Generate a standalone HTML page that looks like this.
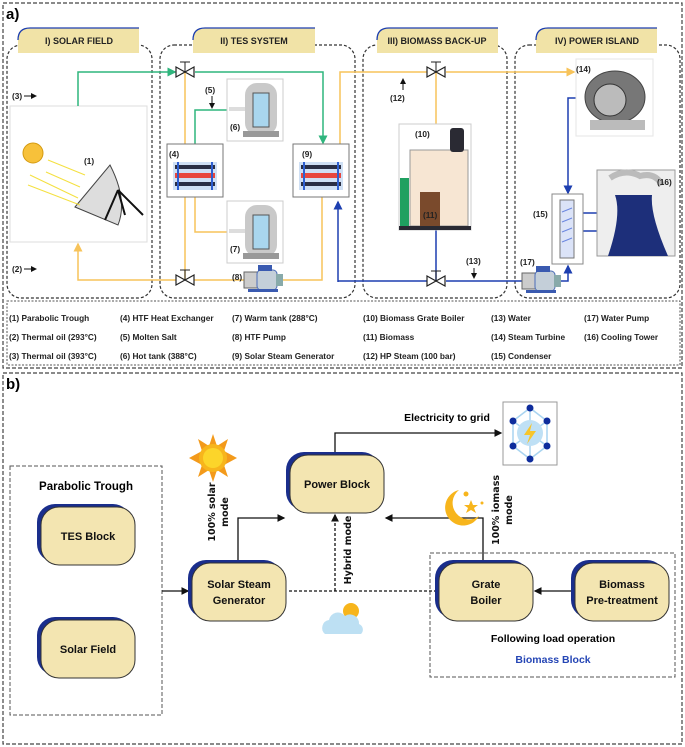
<!DOCTYPE html>
<html><head><meta charset="utf-8"><style>
html,body{margin:0;padding:0;background:#fff}
svg{display:block;font-family:"Liberation Sans",sans-serif}
.t{font-weight:bold;font-size:9px;fill:#222}
.lg{font-weight:bold;font-size:8.3px;fill:#222}
.nd{font-weight:bold;font-size:11px;fill:#111}
</style></head><body>
<svg width="685" height="747" viewBox="0 0 685 747" xmlns="http://www.w3.org/2000/svg">
<defs>
<marker id="ar" markerWidth="6" markerHeight="6" refX="5" refY="3" orient="auto"><path d="M0,0L6,3L0,6z" fill="#111"/></marker>
<marker id="ag" markerWidth="6" markerHeight="6" refX="5" refY="3" orient="auto"><path d="M0,0L6,3L0,6z" fill="#2fb57d"/></marker>
<marker id="ao" markerWidth="6" markerHeight="6" refX="5" refY="3" orient="auto"><path d="M0,0L6,3L0,6z" fill="#f7c35a"/></marker>
<marker id="ab" markerWidth="6" markerHeight="6" refX="5" refY="3" orient="auto"><path d="M0,0L6,3L0,6z" fill="#1d3fb0"/></marker>
<g id="valve"><path d="M-9,-5L9,5L9,-5L-9,5z" fill="#fff" stroke="#222" stroke-width="1.2"/><line x1="0" y1="0" x2="0" y2="-10" stroke="#222"/><line x1="-5" y1="-10" x2="5" y2="-10" stroke="#222"/></g>
<g id="hx"><rect x="0" y="0" width="56" height="53" fill="#fff" stroke="#777"/><rect x="6" y="18" width="44" height="28" fill="#cfe0f5"/><rect x="8" y="21" width="40" height="4" fill="#2a2f45"/><rect x="8" y="29" width="40" height="5" fill="#e8473e"/><rect x="8" y="38" width="40" height="4" fill="#2a2f45"/><rect x="10" y="18" width="2" height="28" fill="#2e5fd0"/><rect x="44" y="18" width="2" height="28" fill="#2e5fd0"/></g>
<g id="tank"><rect x="0" y="0" width="56" height="62" fill="#fff" stroke="#ccc"/><rect x="18" y="4" width="32" height="52" rx="12" fill="#c9c9c9"/><rect x="26" y="14" width="16" height="34" fill="#a9d6ee" stroke="#555"/><rect x="16" y="52" width="36" height="6" fill="#999"/><rect x="2" y="28" width="16" height="4" fill="#ddd"/></g>
<g id="pump"><rect x="0" y="4" width="14" height="16" fill="#ccc" stroke="#666"/><rect x="13" y="2" width="20" height="20" rx="4" fill="#c4cfd9" stroke="#4b6cb7"/><rect x="32" y="6" width="7" height="12" fill="#8aa"/><rect x="14" y="-3" width="14" height="6" fill="#3a5ab0"/><rect x="4" y="21" width="30" height="3" fill="#3a5ab0"/></g>
<g id="node"><rect x="0" y="0" width="94" height="58" rx="18" fill="#1a2e8c"/><rect x="4" y="3" width="94" height="58" rx="18" fill="#f3e5b1" stroke="#333" stroke-width="1"/></g>
</defs>

<!-- PART A -->
<rect x="3" y="3" width="679" height="365" fill="none" stroke="#444" stroke-dasharray="4,2" stroke-width="1.2"/>
<text x="6" y="19" font-weight="bold" font-size="15">a)</text>
<g fill="none" stroke="#333" stroke-dasharray="3,2" stroke-width="1.2">
<rect x="7" y="45" width="145" height="253" rx="14"/>
<rect x="160" y="45" width="195" height="253" rx="14"/>
<rect x="363" y="45" width="144" height="253" rx="14"/>
<rect x="515" y="45" width="165" height="253" rx="14"/>
</g>
<g>
<path d="M18,53V38Q18,28 28,28H139V53Z" fill="#f1e3a7"/><path d="M18,40Q18,28 30,28H139" fill="none" stroke="#1d3fb0" stroke-width="1.3"/>
<path d="M193,53V38Q193,28 203,28H315V53Z" fill="#f1e3a7"/><path d="M193,40Q193,28 205,28H315" fill="none" stroke="#1d3fb0" stroke-width="1.3"/>
<path d="M377,53V38Q377,28 387,28H498V53Z" fill="#f1e3a7"/><path d="M377,40Q377,28 389,28H498" fill="none" stroke="#1d3fb0" stroke-width="1.3"/>
<path d="M536,53V38Q536,28 546,28H657V53Z" fill="#f1e3a7"/><path d="M536,40Q536,28 548,28H657" fill="none" stroke="#1d3fb0" stroke-width="1.3"/>
</g>
<text class="t" x="79" y="44" text-anchor="middle">I) SOLAR FIELD</text>
<text class="t" x="254" y="44" text-anchor="middle">II) TES SYSTEM</text>
<text class="t" x="437" y="44" text-anchor="middle">III) BIOMASS BACK-UP</text>
<text class="t" x="597" y="44" text-anchor="middle">IV) POWER ISLAND</text>

<!-- solar image -->
<rect x="10" y="106" width="137" height="136" fill="#fff" stroke="#ddd"/>
<circle cx="33" cy="153" r="10" fill="#f7c13a" stroke="#d49a10"/>
<path d="M75,207L110,165Q128,200 118,225Z" fill="#ddd" stroke="#444"/>
<path d="M118,190L143,215M118,190L105,220M118,190L125,215" stroke="#111" stroke-width="2"/>
<path d="M48,160L85,175M46,172L80,187M30,175L78,198M28,185L80,205" stroke="#f4e040" stroke-width="1"/>
<text class="lg" x="84" y="164">(1)</text>

<!-- pipes -->
<path d="M78,106V72H175" fill="none" stroke="#2fb57d" stroke-width="1.5" marker-end="url(#ag)"/>
<path d="M195,72H323V143" fill="none" stroke="#2fb57d" stroke-width="1.5" marker-end="url(#ag)"/>
<path d="M195,144V110H228" fill="none" stroke="#2fb57d" stroke-width="1.5"/>
<path d="M78,246V280H176" fill="none" stroke="#f7c35a" stroke-width="1.5"/>
<path d="M78,250V244" stroke="#f7c35a" stroke-width="1.5" marker-end="url(#ao)"/>
<path d="M185,72V280M194,280H245M282,280H322V197" fill="none" stroke="#f7c35a" stroke-width="1.5"/>
<path d="M195,197V232H228" fill="none" stroke="#f7c35a" stroke-width="1.5"/>
<path d="M340,144V72H427M446,72H570" fill="none" stroke="#f7c35a" stroke-width="1.5"/>
<path d="M560,72H574" stroke="#f7c35a" stroke-width="1.5" marker-end="url(#ao)"/>
<path d="M436,72V124" stroke="#f7c35a" stroke-width="1.5"/>
<path d="M338,282V202" stroke="#1d3fb0" stroke-width="1.5" marker-end="url(#ab)"/>
<path d="M338,281H427M436,230V281M446,281H522" fill="none" stroke="#1d3fb0" stroke-width="1.5"/>
<path d="M560,281H568V266" fill="none" stroke="#1d3fb0" stroke-width="1.5" marker-end="url(#ab)"/>
<path d="M576,98H568V193" fill="none" stroke="#1d3fb0" stroke-width="1.5" marker-end="url(#ab)"/>
<path d="M583,213H597M583,231H597" stroke="#1d3fb0" stroke-width="1.5"/>

<use href="#valve" x="185" y="72"/>
<use href="#valve" x="185" y="280"/>
<use href="#valve" x="436" y="72"/>
<use href="#valve" x="436" y="281"/>
<use href="#hx" x="167" y="144"/>
<use href="#hx" x="293" y="144"/>
<use href="#tank" x="227" y="79"/>
<use href="#tank" x="227" y="201"/>
<use href="#pump" x="244" y="268"/>
<use href="#pump" x="522" y="269"/>

<!-- boiler -->
<rect x="399" y="124" width="72" height="106" fill="#fff" stroke="#ccc"/>
<rect x="410" y="150" width="58" height="76" fill="#f7e6d3" stroke="#999"/>
<rect x="450" y="128" width="14" height="24" rx="3" fill="#2a2a33"/>
<rect x="400" y="178" width="9" height="48" fill="#1fa060"/>
<rect x="420" y="192" width="20" height="34" fill="#7a4a2c"/>
<rect x="399" y="226" width="72" height="4" fill="#2a2a33"/>
<!-- turbine -->
<rect x="576" y="59" width="77" height="77" fill="#fff" stroke="#e5e5e5"/>
<ellipse cx="615" cy="97" rx="30" ry="26" fill="#777" stroke="#444"/><ellipse cx="610" cy="100" rx="16" ry="16" fill="#bbb" stroke="#333"/>
<rect x="590" y="120" width="55" height="10" fill="#bbb"/>
<!-- condenser -->
<rect x="552" y="194" width="31" height="70" fill="#fff" stroke="#888"/>
<path d="M560,200H574V258H560Z" fill="#dbe3f8" stroke="#777"/>
<path d="M562,212L572,208M562,222L572,218M562,232L572,228M562,242L572,238" stroke="#6b86e0"/>
<!-- tower -->
<rect x="597" y="170" width="78" height="86" fill="#eee" stroke="#999"/>
<path d="M608,256Q622,215 615,195H652Q650,215 668,256Z" fill="#1d2f7a"/>
<path d="M610,178Q625,168 640,176Q655,172 662,185" fill="none" stroke="#bbb" stroke-width="6"/>

<g class="lg">
<text x="12" y="99">(3)</text><path d="M24,96H36" stroke="#111" marker-end="url(#ar)"/>
<text x="12" y="272">(2)</text><path d="M24,269H36" stroke="#111" marker-end="url(#ar)"/>
<text x="205" y="93">(5)</text><path d="M212,96V108" stroke="#111" marker-end="url(#ar)"/>
<text x="230" y="130">(6)</text><text x="230" y="252">(7)</text>
<text x="169" y="157">(4)</text><text x="302" y="157">(9)</text>
<text x="232" y="280">(8)</text>
<text x="390" y="101">(12)</text><path d="M403,90V79" stroke="#111" marker-end="url(#ar)"/>
<text x="415" y="137">(10)</text><text x="423" y="218">(11)</text>
<text x="466" y="264">(13)</text><path d="M474,268V278" stroke="#111" marker-end="url(#ar)"/>
<text x="576" y="72">(14)</text><text x="533" y="217">(15)</text>
<text x="657" y="185">(16)</text><text x="520" y="265">(17)</text>
</g>

<!-- legend -->
<rect x="7" y="301" width="673" height="64" fill="none" stroke="#555" stroke-dasharray="2,1.5"/>
<g class="lg">
<text x="9" y="321">(1) Parabolic Trough</text><text x="9" y="340">(2) Thermal oil (293°C)</text><text x="9" y="359">(3) Thermal oil (393°C)</text>
<text x="120" y="321">(4) HTF Heat Exchanger</text><text x="120" y="340">(5) Molten Salt</text><text x="120" y="359">(6) Hot tank (388°C)</text>
<text x="232" y="321">(7) Warm tank (288°C)</text><text x="232" y="340">(8) HTF Pump</text><text x="232" y="359">(9) Solar Steam Generator</text>
<text x="363" y="321">(10) Biomass Grate Boiler</text><text x="363" y="340">(11) Biomass</text><text x="363" y="359">(12) HP Steam (100 bar)</text>
<text x="491" y="321">(13) Water</text><text x="491" y="340">(14) Steam Turbine</text><text x="491" y="359">(15) Condenser</text>
<text x="584" y="321">(17) Water Pump</text><text x="584" y="340">(16) Cooling Tower</text>
</g>

<!-- PART B -->
<rect x="3" y="373" width="679" height="371" fill="none" stroke="#444" stroke-dasharray="4,2" stroke-width="1.2"/>
<text x="6" y="389" font-weight="bold" font-size="15">b)</text>
<rect x="10" y="466" width="152" height="249" fill="none" stroke="#555" stroke-dasharray="4,2"/>
<text x="86" y="490" text-anchor="middle" font-weight="bold" font-size="11.5">Parabolic Trough</text>
<rect x="430" y="553" width="245" height="124" fill="none" stroke="#555" stroke-dasharray="4,2"/>
<text x="553" y="642" text-anchor="middle" font-weight="bold" font-size="10.5">Following load operation</text>
<text x="553" y="663" text-anchor="middle" font-weight="bold" font-size="10.5" fill="#2546b5">Biomass Block</text>

<!-- connectors -->
<path d="M162,591H188" stroke="#111" stroke-width="1.3" marker-end="url(#ar)"/>
<path d="M238,560V518H284" fill="none" stroke="#111" stroke-width="1.3" marker-end="url(#ar)"/>
<path d="M483,560V518H386" fill="none" stroke="#111" stroke-width="1.3" marker-end="url(#ar)"/>
<path d="M335,452V433H501" fill="none" stroke="#111" stroke-width="1.3" marker-end="url(#ar)"/>
<path d="M571,591H535" stroke="#111" stroke-width="1.3" marker-end="url(#ar)"/>
<path d="M289,591H435" stroke="#111" stroke-width="1.3" stroke-dasharray="3,2"/>
<path d="M335,591V515" stroke="#111" stroke-width="1.3" stroke-dasharray="3,2" marker-end="url(#ar)"/>

<g transform="translate(37,504)"><use href="#node"/></g>
<g transform="translate(37,617)"><use href="#node"/></g>
<g transform="translate(188,560)"><use href="#node"/></g>
<g transform="translate(286,452)"><use href="#node"/></g>
<g transform="translate(435,560)"><use href="#node"/></g>
<g transform="translate(571,560)"><use href="#node"/></g>
<g class="nd" text-anchor="middle">
<text x="88" y="540">TES Block</text>
<text x="88" y="653">Solar Field</text>
<text x="239" y="588">Solar Steam</text><text x="239" y="604">Generator</text>
<text x="337" y="488">Power Block</text>
<text x="486" y="588">Grate</text><text x="486" y="604">Boiler</text>
<text x="622" y="588">Biomass</text><text x="622" y="604">Pre-treatment</text>
</g>
<g font-family="'DejaVu Sans',sans-serif" font-weight="bold" font-size="9.5" fill="#111" text-anchor="middle">
<text transform="translate(215,512) rotate(-90)">100% solar</text>
<text transform="translate(228,512) rotate(-90)">mode</text>
<text transform="translate(351,550) rotate(-90)">Hybrid mode</text>
<text transform="translate(499,510) rotate(-90)">100% iomass</text>
<text transform="translate(512,510) rotate(-90)">mode</text>
</g>
<text x="447" y="421" text-anchor="middle" font-weight="bold" font-size="10.5">Electricity to grid</text>

<!-- grid icon -->
<rect x="503" y="402" width="54" height="63" fill="#fff" stroke="#999"/>
<g stroke="#a9d4f0" stroke-width="1.5" fill="none"><path d="M530,408L547,421V446L530,459L513,446V421Z"/><path d="M530,408V459M513,421L547,446M547,421L513,446"/></g>
<circle cx="530" cy="433" r="13" fill="#bfe0f5"/>
<path d="M532,423L524,435H530L527,444L536,431H530Z" fill="#f7c52b"/>
<g fill="#0e2c9c"><circle cx="530" cy="408" r="3.5"/><circle cx="547" cy="421" r="3.5"/><circle cx="547" cy="446" r="3.5"/><circle cx="530" cy="459" r="3.5"/><circle cx="513" cy="446" r="3.5"/><circle cx="513" cy="421" r="3.5"/></g>

<!-- sun -->
<g transform="translate(213,458)">
<polygon points="0,-24 4,-12 15,-19 11,-7 24,0 11,7 15,19 4,12 0,24 -4,12 -15,19 -11,7 -24,0 -11,-7 -15,-19 -4,-12" fill="#f39a1b"/>
<circle r="14" fill="#f7b51c"/><circle r="10" fill="#fcd52a"/>
</g>
<!-- moon -->
<g transform="translate(461,508)">
<path d="M-2,-18A18,18 0 1,0 18,8A14,14 0 0,1 -2,-18Z" fill="#f7b51c"/>
<polygon points="10,-8 12,-3 17,-3 13,0 15,5 10,2 5,5 7,0 3,-3 8,-3" fill="#f7b51c"/>
<circle cx="5" cy="-14" r="2.5" fill="#f7b51c"/><circle cx="21" cy="-5" r="1.5" fill="#f7b51c"/>
</g>
<!-- cloud -->
<g transform="translate(343,622)">
<circle cx="8" cy="-11" r="8" fill="#f7b51c"/>
<path d="M-18,12A8,8 0 0,1 -14,-2A9,9 0 0,1 2,-6A9,9 0 0,1 16,2A6,6 0 0,1 18,12Z" fill="#bde0f3"/>
</g>
</svg>
</body></html>
